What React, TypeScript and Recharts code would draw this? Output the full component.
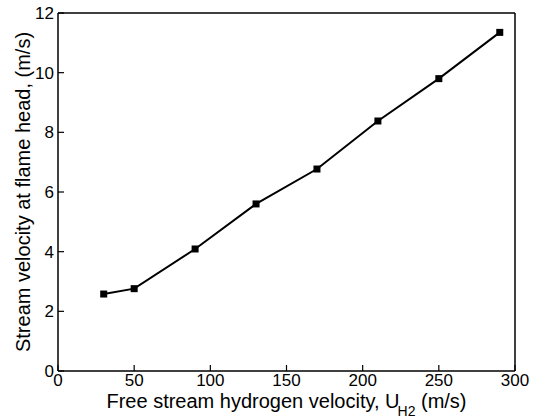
import { LineChart, Line, XAxis, YAxis } from "recharts";

const uH2 = [30, 50, 90, 130, 170, 210, 250, 290];
const headVelocity = [2.58, 2.76, 4.09, 5.6, 6.77, 8.38, 9.8, 11.35];
const xTicks = [0, 50, 100, 150, 200, 250, 300];
const yTicks = [0, 2, 4, 6, 8, 10, 12];

const data = uH2.map((u, i) => ({ u, v: headVelocity[i] }));

const FONT = "'Liberation Sans', Arial, Helvetica, sans-serif";

const SquareDot = (props: any) => {
  const { cx, cy } = props;
  if (cx == null || cy == null) return null;
  return <rect x={cx - 3.5} y={cy - 3.5} width={7} height={7} fill="#000" />;
};

const XLabel = (props: any) => {
  const { viewBox } = props;
  const cx = viewBox.x + viewBox.width / 2;
  const y = viewBox.y + 37;
  return (
    <text x={cx} y={y} textAnchor="middle" fontFamily={FONT} fontSize={20} fill="#000">
      Free stream hydrogen velocity, U
      <tspan dx={-2} dy={8} fontSize={14}>H2</tspan>
      <tspan dy={-8}> (m/s)</tspan>
    </text>
  );
};

const YLabel = (props: any) => {
  const { viewBox } = props;
  const x = 30;
  const y = viewBox.y + viewBox.height / 2;
  return (
    <text
      x={x}
      y={y}
      transform={`rotate(-90 ${x} ${y})`}
      textAnchor="middle"
      fontFamily={FONT}
      fontSize={20}
      fill="#000"
    >
      Stream velocity at flame head, (m/s)
    </text>
  );
};

const tickStyle = { fill: "#000", fontSize: 17, fontFamily: FONT };
const axisLine = { stroke: "#000", strokeWidth: 1.5 };
const tickLine = { stroke: "#000", strokeWidth: 1.2 };

export default function App() {
  return (
    <div style={{ position: "absolute", left: 0, top: 0, background: "#fff" }}>
      <LineChart
        width={546}
        height={420}
        data={data}
        margin={{ top: 12, right: 30, bottom: 0, left: 0 }}
      >
        <XAxis
          dataKey="u"
          type="number"
          domain={[0, 300]}
          ticks={xTicks}
          height={49}
          tickSize={-6}
          tickMargin={9}
          tick={tickStyle}
          axisLine={axisLine}
          tickLine={tickLine}
          label={{ content: <XLabel /> }}
        />
        <XAxis
          xAxisId="top"
          orientation="top"
          type="number"
          domain={[0, 300]}
          ticks={xTicks}
          height={1}
          tickSize={-6}
          tick={false}
          axisLine={axisLine}
          tickLine={tickLine}
        />
        <YAxis
          type="number"
          domain={[0, 12]}
          ticks={yTicks}
          width={58}
          tickSize={-6}
          tickMargin={10}
          tick={tickStyle}
          axisLine={axisLine}
          tickLine={tickLine}
          label={{ content: <YLabel /> }}
        />
        <YAxis
          yAxisId="right"
          orientation="right"
          type="number"
          domain={[0, 12]}
          ticks={yTicks}
          width={1}
          tickSize={-6}
          tick={false}
          axisLine={axisLine}
          tickLine={tickLine}
        />
        <Line
          dataKey="v"
          stroke="#000"
          strokeWidth={2}
          dot={<SquareDot />}
          activeDot={false}
          isAnimationActive={false}
        />
      </LineChart>
    </div>
  );
}
